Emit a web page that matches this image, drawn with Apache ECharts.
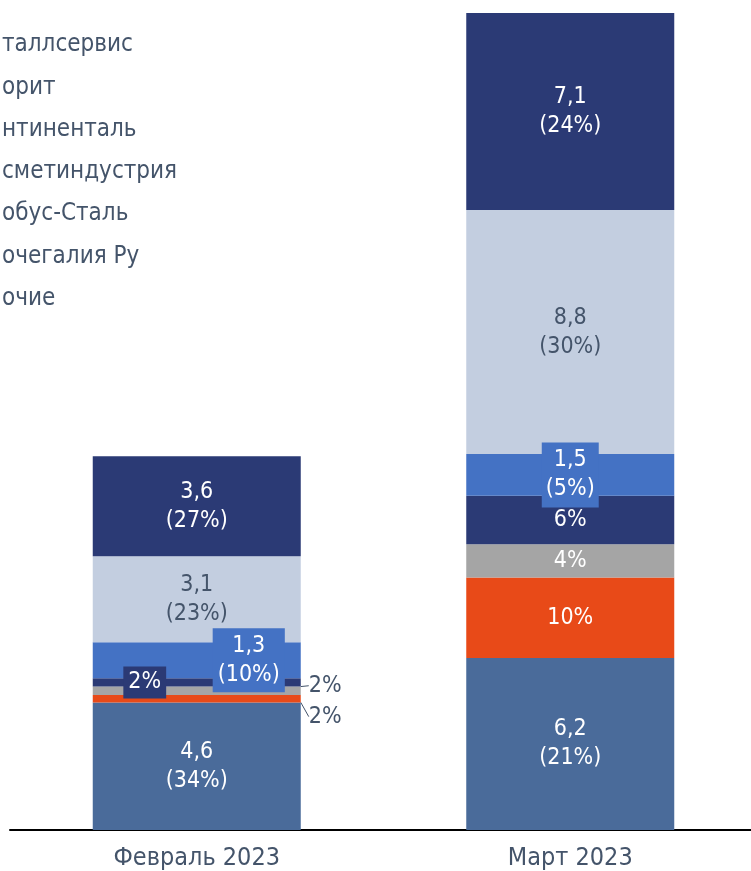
<!DOCTYPE html>
<html>
<head>
<meta charset="utf-8">
<script src="https://cdn.jsdelivr.net/npm/echarts@6/dist/echarts.min.js"></script>
<style>
  html, body { margin: 0; padding: 0; background: #fff; }
  #chart { width: 751px; height: 871px; }
</style>
</head>
<body>
<div id="chart"></div>
<script>
var categories = ['Февраль 2023', 'Март 2023'];
var seriesNames = ['таллсервис', 'орит', 'нтиненталь', 'сметиндустрия', 'обус-Сталь', 'очегалия Ру', 'очие'];
// values, bottom to top
var metallservis = [4.6, 6.2];
var favorit = [0.27, 2.9];
var kontinental = [0.3, 1.2];
var metindustriya = [0.3, 1.75];
var globusStal = [1.3, 1.5];
var gastronomiya = [3.1, 8.8];
var prochie = [3.6, 7.1];
// shares, %
var pctMetallservis = [34, 21];
var pctFavorit = [2, 10];
var pctKontinental = [2, 4];
var pctMetindustriya = [2, 6];
var pctGlobusStal = [10, 5];
var pctGastronomiya = [23, 30];
var pctProchie = [27, 24];
var showValue = [true, false, false, false, true, true, true];

var values = [metallservis, favorit, kontinental, metindustriya, globusStal, gastronomiya, prochie];
var pcts = [pctMetallservis, pctFavorit, pctKontinental, pctMetindustriya, pctGlobusStal, pctGastronomiya, pctProchie];
var colors = ['#4A6B9A', '#E84A18', '#A5A5A5', '#2B3A75', '#4472C4', '#C3CEE0', '#2B3A75'];
var textColor = '#44546A';
var font = '"DejaVu Sans Condensed", "DejaVu Sans"';

function fmt(v) { return v.toFixed(1).replace('.', ','); }

// per-point label tweaks
var labelExtra = {
    '1-0': { position: 'right', distance: 8, color: textColor },
    '2-0': { position: 'right', distance: 8, color: textColor },
    '3-0': { backgroundColor: '#2B3A75', padding: [2, 5, 1, 5] },
    '4-0': { backgroundColor: '#4472C4', padding: [4, 5, 2, 5] },
    '4-1': { backgroundColor: '#4472C4', padding: [4, 4, 3, 4] }
};
var layoutShift = { '1-0': [0, 18], '2-0': [0, -5], '3-0': [-52, 0], '4-0': [52, 0] };

var series = seriesNames.map(function (name, i) {
    return {
        name: name,
        type: 'bar',
        stack: 'total',
        barWidth: 208,
        itemStyle: { color: colors[i] },
        label: {
            show: true,
            position: 'inside',
            fontFamily: font,
            fontSize: 23,
            lineHeight: 29,
            color: i === 5 ? textColor : '#fff',
            formatter: function (p) {
                var pc = pcts[i][p.dataIndex] + '%';
                return showValue[i] ? fmt(p.value) + '\n(' + pc + ')' : pc;
            }
        },
        labelLine: { show: true, lineStyle: { color: textColor, width: 1 } },
        labelLayout: function (p) {
            var s = layoutShift[i + '-' + p.dataIndex];
            return s ? { dx: s[0], dy: s[1] } : {};
        },
        data: values[i].map(function (v, j) {
            var item = { value: v };
            var extra = labelExtra[i + '-' + j];
            if (extra) item.label = extra;
            return item;
        })
    };
});

var chart = echarts.init(document.getElementById('chart'));
chart.setOption({
    animation: false,
    legend: {
        orient: 'vertical',
        left: -28,
        top: 28,
        itemWidth: 20,
        itemHeight: 14,
        itemGap: 18.3,
        data: seriesNames.slice(),
        textStyle: { fontFamily: font, fontSize: 24, lineHeight: 24, color: textColor }
    },
    grid: { left: 10, right: -6, top: 13, bottom: 41, outerBoundsMode: 'none' },
    xAxis: {
        type: 'category',
        data: categories,
        axisLine: { lineStyle: { color: '#000', width: 2 } },
        axisTick: { show: false },
        axisLabel: { fontFamily: font, fontSize: 25, color: textColor, margin: 16 }
    },
    yAxis: {
        type: 'value',
        min: 0,
        max: function (e) { return e.max; },
        show: false,
        splitLine: { show: false }
    },
    series: series
});
</script>
</body>
</html>
